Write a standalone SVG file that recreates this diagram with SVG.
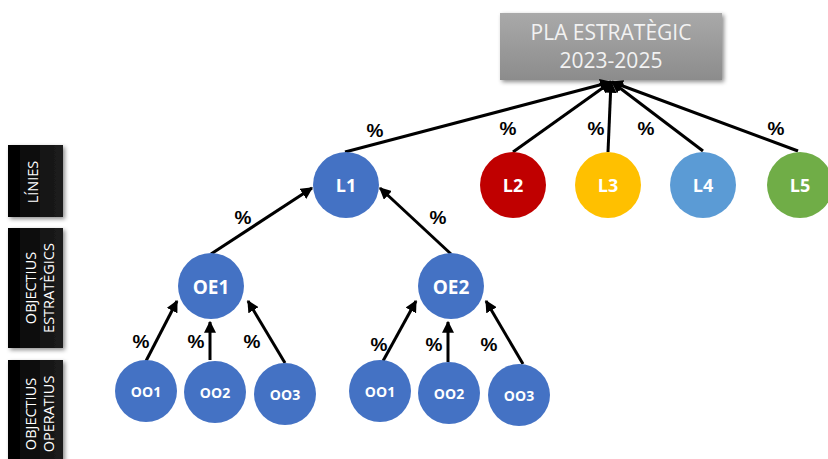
<svg xmlns="http://www.w3.org/2000/svg" width="828" height="459" viewBox="0 0 828 459">
<defs>
<linearGradient id="gTitle" x1="0" y1="0" x2="0" y2="1"><stop offset="0" stop-color="#a9a9a9"/><stop offset="1" stop-color="#8c8c8c"/></linearGradient>
<linearGradient id="gSide" x1="0" y1="0" x2="1" y2="0"><stop offset="0" stop-color="#000"/><stop offset="1" stop-color="#1e1e1e"/></linearGradient>
<filter id="sh" x="-20%" y="-20%" width="150%" height="150%"><feDropShadow dx="2" dy="2" stdDeviation="2" flood-color="#000" flood-opacity="0.45"/></filter>
<marker id="ah" viewBox="0 0 10 10" refX="9" refY="5" markerWidth="4" markerHeight="4" orient="auto" markerUnits="strokeWidth"><path d="M0,0 L10,5 L0,10 z" fill="#000"/></marker>
</defs>
<style>
.c line{stroke:#000;stroke-width:3;marker-end:url(#ah)}
.pct{font-family:"Liberation Sans",Arial,sans-serif;font-weight:bold;font-size:19px;fill:#000;text-anchor:middle}
.nl{font-family:"Open Sans","Liberation Sans",sans-serif;font-weight:bold;fill:#fff;text-anchor:middle;dominant-baseline:central}
.side{font-family:"Open Sans","Liberation Sans",sans-serif;font-size:14.5px;fill:#fff;text-anchor:middle}
.tt{font-family:"Open Sans","Liberation Sans",sans-serif;font-size:21px;fill:#f2f2f2;text-anchor:middle}
</style>
<rect width="828" height="459" fill="#fff"/>
<g id="sidebar-linies"><rect x="8" y="145" width="55" height="72" fill="url(#gSide)" filter="url(#sh)"/><text class="side" font-size="16" transform="translate(38,182) rotate(-90)">LÍNIES</text></g>
<g id="sidebar-oe"><rect x="8" y="228" width="55" height="120" fill="url(#gSide)" filter="url(#sh)"/><text class="side" transform="translate(36,288) rotate(-90)">OBJECTIUS</text><text class="side" transform="translate(54,288) rotate(-90)">ESTRATÈGICS</text></g>
<g id="sidebar-oo"><rect x="8" y="360" width="55" height="110" fill="url(#gSide)" filter="url(#sh)"/><text class="side" transform="translate(36,414) rotate(-90)">OBJECTIUS</text><text class="side" transform="translate(54,414) rotate(-90)">OPERATIUS</text></g>
<g id="title"><rect x="500" y="13" width="222" height="67" fill="url(#gTitle)" filter="url(#sh)"/><text class="tt" x="611" y="40">PLA ESTRATÈGIC</text><text class="tt" x="611" y="68">2023-2025</text></g>
<g id="connectors" class="c">
<line x1="345" y1="152" x2="611" y2="82"/>
<line x1="513" y1="152" x2="611" y2="82"/>
<line x1="608" y1="152" x2="611" y2="82"/>
<line x1="703" y1="151" x2="612" y2="82"/>
<line x1="798" y1="151" x2="612" y2="82"/>
<line x1="211" y1="254" x2="312" y2="188"/>
<line x1="451" y1="254" x2="380" y2="188"/>
<line x1="146" y1="361" x2="177" y2="301"/>
<line x1="210" y1="360" x2="210" y2="322"/>
<line x1="285" y1="363" x2="248" y2="301"/>
<line x1="383" y1="361" x2="416" y2="301"/>
<line x1="448" y1="362" x2="448" y2="322"/>
<line x1="523" y1="364" x2="486" y2="301"/>
</g>
<g id="labels">
<text class="pct" x="375" y="137">%</text>
<text class="pct" x="508" y="135">%</text>
<text class="pct" x="596" y="135">%</text>
<text class="pct" x="646" y="135">%</text>
<text class="pct" x="776" y="135">%</text>
<text class="pct" x="243" y="224">%</text>
<text class="pct" x="438" y="224">%</text>
<text class="pct" x="141" y="348">%</text>
<text class="pct" x="196" y="348">%</text>
<text class="pct" x="252" y="348">%</text>
<text class="pct" x="379" y="351">%</text>
<text class="pct" x="434" y="351">%</text>
<text class="pct" x="489" y="351">%</text>
</g>
<g id="L1"><circle cx="346" cy="185" r="33" fill="#4472c4"/><text class="nl" x="346" y="185" font-size="18">L1</text></g>
<g id="L2"><circle cx="513" cy="185" r="33" fill="#c00000"/><text class="nl" x="513" y="185" font-size="18">L2</text></g>
<g id="L3"><circle cx="608" cy="185" r="33" fill="#ffc000"/><text class="nl" x="608" y="185" font-size="18">L3</text></g>
<g id="L4"><circle cx="703" cy="185" r="33" fill="#5b9bd5"/><text class="nl" x="703" y="185" font-size="18">L4</text></g>
<g id="L5"><circle cx="800" cy="185" r="33" fill="#70ad47"/><text class="nl" x="800" y="185" font-size="18">L5</text></g>
<g id="OE1"><circle cx="211" cy="286" r="33" fill="#4472c4"/><text class="nl" x="211" y="287" font-size="19">OE1</text></g>
<g id="OE2"><circle cx="451" cy="286" r="33" fill="#4472c4"/><text class="nl" x="451" y="287" font-size="19">OE2</text></g>
<g id="OO1a"><circle cx="146" cy="391" r="31" fill="#4472c4"/><text class="nl" x="146" y="391" font-size="14">OO1</text></g>
<g id="OO2a"><circle cx="215" cy="392" r="31" fill="#4472c4"/><text class="nl" x="215" y="392" font-size="14">OO2</text></g>
<g id="OO3a"><circle cx="285" cy="394" r="31" fill="#4472c4"/><text class="nl" x="285" y="394" font-size="14">OO3</text></g>
<g id="OO1b"><circle cx="380" cy="391" r="31" fill="#4472c4"/><text class="nl" x="380" y="391" font-size="14">OO1</text></g>
<g id="OO2b"><circle cx="449" cy="393" r="31" fill="#4472c4"/><text class="nl" x="449" y="393" font-size="14">OO2</text></g>
<g id="OO3b"><circle cx="519" cy="395" r="31" fill="#4472c4"/><text class="nl" x="519" y="395" font-size="14">OO3</text></g>
</svg>
